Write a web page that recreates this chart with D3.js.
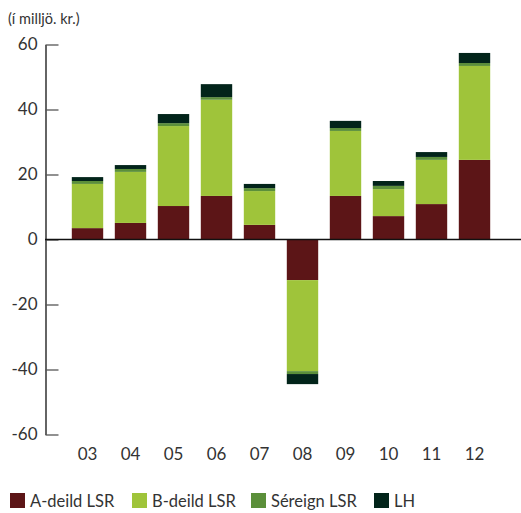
<!DOCTYPE html>
<html>
<head>
<meta charset="utf-8">
<script src="https://cdn.jsdelivr.net/npm/d3@7"></script>
<style>
  body { margin: 0; background: #fff; }
  text { font-family: Lato, "Noto Sans", sans-serif; fill: #333; }
</style>
</head>
<body>
<script>
// data
var years = ["03", "04", "05", "06", "07", "08", "09", "10", "11", "12"];
var aDeild = [3.5, 5.1, 10.3, 13.4, 4.5, -12.5, 13.4, 7.2, 10.9, 24.5];
var bDeild = [13.6, 15.7, 24.6, 29.6, 10.4, -28.0, 20.0, 8.3, 13.6, 28.9];
var sereign = [0.9, 0.9, 0.9, 0.8, 0.9, -0.9, 0.9, 1.0, 0.9, 0.9];
var lh = [1.2, 1.2, 2.8, 4.0, 1.3, -3.1, 2.2, 1.5, 1.5, 3.1];
var yTicks = [-60, -40, -20, 0, 20, 40, 60];
var seriesNames = ["A-deild LSR", "B-deild LSR", "Séreign LSR", "LH"];
var colors = ["#5c1517", "#9fc43a", "#5b8f3a", "#02241a"];

var rows = years.map(function (y, i) {
	return { year: y, a: aDeild[i], b: bDeild[i], s: sereign[i], lh: lh[i] };
});
var keys = ["a", "b", "s", "lh"];

var svg = d3.select("body")
	.append("svg")
		.attr("width", 521)
		.attr("height", 513);

var x = d3.scaleBand()
	.domain(years)
	.range([66, 496])
	.paddingInner(0.27)
	.paddingOuter(0.135);

var y = d3.scaleLinear()
	.domain([-60, 60])
	.range([434.5, 44.5]);

// unit label
svg.append("text")
	.attr("x", 8)
	.attr("y", 24)
	.style("font-size", "14.5px")
	.text("(í milljö. kr.)");

// stacked bars
var stacked = d3.stack()
	.keys(keys)
	.offset(d3.stackOffsetDiverging)(rows);

svg.selectAll("g.series")
	.data(stacked)
	.enter()
	.append("g")
		.attr("class", "series")
		.attr("fill", function (d, i) { return colors[i]; })
	.selectAll("rect")
	.data(function (d) { return d; })
	.enter()
	.append("rect")
		.attr("x", function (d) { return x(d.data.year); })
		.attr("width", x.bandwidth())
		.attr("y", function (d) { return y(Math.max(d[0], d[1])); })
		.attr("height", function (d) { return Math.abs(y(d[0]) - y(d[1])); });

// y axis
var yAxis = svg.append("g")
	.attr("transform", "translate(45.5,0)")
	.call(d3.axisLeft(y)
		.tickValues(yTicks)
		.tickFormat(function (d) { return String(d); })
		.tickSizeInner(-13)
		.tickSizeOuter(0)
		.tickPadding(8));
yAxis.select(".domain").attr("stroke", "#111").attr("stroke-width", 1.3);
yAxis.selectAll(".tick line").attr("stroke", "#555").attr("stroke-width", 1.3);
yAxis.selectAll(".tick text")
	.style("font-size", "17px")
	.attr("fill", "#333")
	.style("font-family", "Lato, 'Noto Sans', sans-serif");

// zero line
svg.append("line")
	.attr("x1", 45)
	.attr("x2", 521)
	.attr("y1", y(0))
	.attr("y2", y(0))
	.attr("stroke", "#111")
	.attr("stroke-width", 1.5);

// x labels
svg.selectAll("text.year")
	.data(years)
	.enter()
	.append("text")
		.attr("class", "year")
		.attr("x", function (d) { return x(d) + x.bandwidth() / 2; })
		.attr("y", 460)
		.attr("text-anchor", "middle")
		.style("font-size", "17px")
		.text(function (d) { return d; });

// legend
var legendX = [10, 132, 251, 374];
var legend = svg.selectAll("g.legend")
	.data(seriesNames)
	.enter()
	.append("g")
		.attr("class", "legend")
		.attr("transform", function (d, i) { return "translate(" + legendX[i] + ",493)"; });

legend.append("rect")
	.attr("width", 15)
	.attr("height", 15)
	.attr("fill", function (d, i) { return colors[i]; });

legend.append("text")
	.attr("x", 20)
	.attr("y", 13.5)
	.style("font-size", "16.5px")
	.text(function (d) { return d; });
</script>
</body>
</html>
